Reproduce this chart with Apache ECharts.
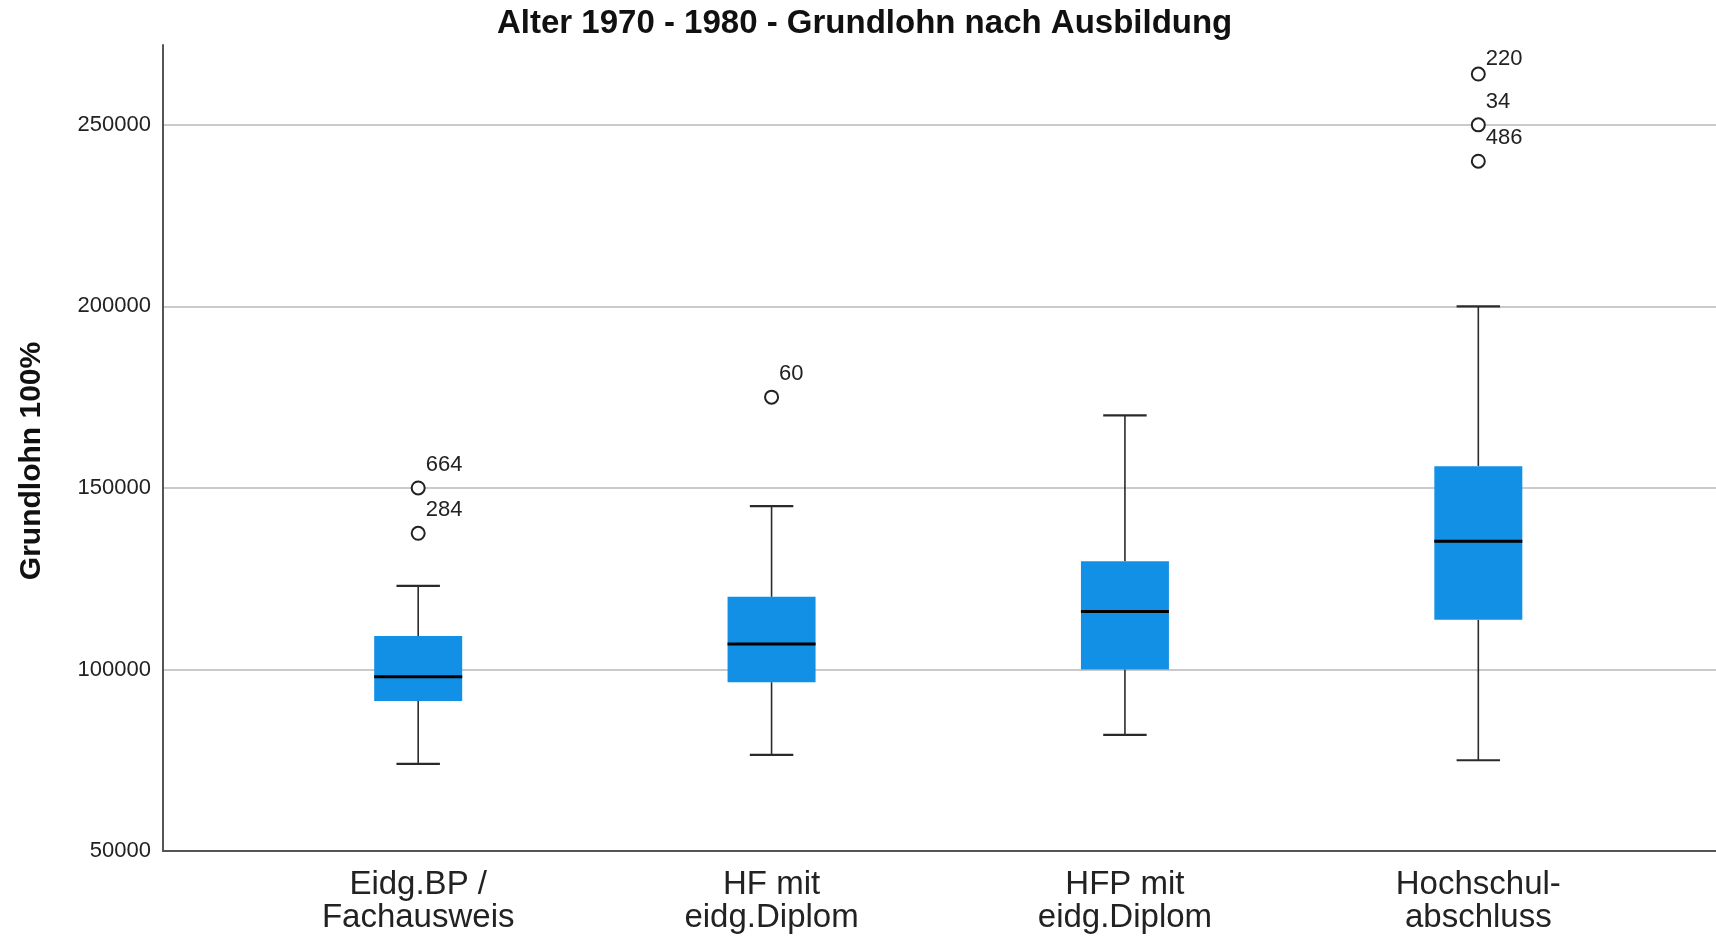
<!DOCTYPE html>
<html lang="de">
<head>
    <meta charset="UTF-8">
    <title>Alter 1970 - 1980 - Grundlohn nach Ausbildung</title>
    <style>
        html, body { margin: 0; padding: 0; background: #fff; }
        #chart { width: 1716px; height: 937px; }
    </style>
</head>
<body>
<div id="chart"></div>

<script src="https://cdn.jsdelivr.net/npm/echarts@6/dist/echarts.min.js"></script>
<script>
    // Kategorien (Ausbildung)
    const categories = ['Eidg.BP /\nFachausweis', 'HF mit\neidg.Diplom', 'HFP mit\neidg.Diplom', 'Hochschul-\nabschluss'];

    // Boxplot-Kennwerte je Kategorie
    const whiskerLow  = [74000, 76500, 82000, 75000];
    const quartile1   = [91300, 96500, 100000, 113700];
    const medianValue = [98000, 107000, 116000, 135300];
    const quartile3   = [109200, 120000, 129800, 156000];
    const whiskerHigh = [123000, 145000, 170000, 200000];

    // Ausreisser
    const outlierCategory = [0, 0, 1, 3, 3, 3];
    const outlierValue    = [150000, 137500, 175000, 264000, 250000, 240000];
    const outlierId       = ['664', '284', '60', '220', '34', '486'];

    // Achse
    const yTicks = [50000, 100000, 150000, 200000, 250000];

    const FONT = 'Liberation Sans, Arial, sans-serif';
    const BOX_BLUE = '#1290e6';
    const LINE_DARK = '#2a2a2a';

    const boxData = categories.map((c, i) =>
        [i, whiskerLow[i], quartile1[i], medianValue[i], quartile3[i], whiskerHigh[i]]);

    // label of the top outlier sits a bit lower in the original
    const labelLift = { '220': -15 };

    const outlierData = outlierValue.map((v, i) => ({
        value: [outlierCategory[i], v],
        name: outlierId[i],
        label: { offset: [0, labelLift[outlierId[i]] !== undefined ? labelLift[outlierId[i]] : -23] }
    }));

    function renderBox(params, api) {
        const i = api.value(0);
        const lo = api.coord([i, api.value(1)]);
        const b1 = api.coord([i, api.value(2)]);
        const md = api.coord([i, api.value(3)]);
        const b3 = api.coord([i, api.value(4)]);
        const hi = api.coord([i, api.value(5)]);
        const band = api.size([1, 0])[0];
        const boxW = band * 0.249;
        const capW = band * 0.123;
        const x = md[0];
        const lineStyle = { stroke: LINE_DARK, lineWidth: 1.6 };
        const capStyle = { stroke: LINE_DARK, lineWidth: 2.2 };
        return {
            type: 'group',
            children: [
                { type: 'line', shape: { x1: x, y1: hi[1], x2: x, y2: b3[1] }, style: lineStyle },
                { type: 'line', shape: { x1: x, y1: b1[1], x2: x, y2: lo[1] }, style: lineStyle },
                { type: 'line', shape: { x1: x - capW / 2, y1: hi[1], x2: x + capW / 2, y2: hi[1] }, style: capStyle },
                { type: 'line', shape: { x1: x - capW / 2, y1: lo[1], x2: x + capW / 2, y2: lo[1] }, style: capStyle },
                { type: 'rect', shape: { x: x - boxW / 2, y: b3[1], width: boxW, height: b1[1] - b3[1] },
                  style: { fill: BOX_BLUE } },
                { type: 'line', shape: { x1: x - boxW / 2, y1: md[1], x2: x + boxW / 2, y2: md[1] },
                  style: { stroke: '#000', lineWidth: 3 } }
            ]
        };
    }

    const chart = echarts.init(document.getElementById('chart'));

    const yMin = yTicks[0];
    const yMax = 272000;

    chart.setOption({
        animation: false,
        backgroundColor: '#fff',
        title: {
            text: 'Alter 1970 - 1980 - Grundlohn nach Ausbildung',
            left: 497,
            top: 7,
            padding: 0,
            textStyle: { fontFamily: FONT, fontSize: 33, fontWeight: 'bold', color: '#111' }
        },
        grid: [
            // frame: axis lines, tick labels, grid lines
            { left: 163, right: 0, top: 45, bottom: 86 },
            // category area for boxes
            { left: 241.5, right: 61, top: 45, bottom: 86 }
        ],
        xAxis: [
            {
                gridIndex: 0,
                type: 'value',
                min: 0, max: 1,
                axisLine: { show: true, lineStyle: { color: '#555', width: 2 } },
                axisTick: { show: false },
                axisLabel: { show: false },
                splitLine: { show: false }
            },
            {
                gridIndex: 1,
                type: 'category',
                data: categories,
                axisLine: { show: false },
                axisTick: { show: false },
                splitLine: { show: false },
                axisLabel: {
                    margin: 17,
                    fontFamily: FONT,
                    fontSize: 33,
                    lineHeight: 33,
                    color: '#222'
                }
            }
        ],
        yAxis: [
            {
                gridIndex: 0,
                type: 'value',
                min: yMin,
                max: yMax,
                interval: 50000,
                name: 'Grundlohn 100%',
                nameLocation: 'middle',
                nameGap: 116,
                nameTextStyle: {
                    fontFamily: FONT, fontSize: 30, fontWeight: 'bold', color: '#111',
                    padding: [0, 26, 0, 0]
                },
                axisLine: { show: true, lineStyle: { color: '#555', width: 2 } },
                axisTick: { show: false },
                axisLabel: {
                    margin: 12,
                    showMaxLabel: false,
                    formatter: v => String(v),
                    fontFamily: FONT,
                    fontSize: 22,
                    color: '#222',
                    padding: [8, 0, 0, 0]
                },
                splitLine: {
                    show: true,
                    showMinLine: false,
                    showMaxLine: false,
                    lineStyle: { color: '#cacaca', width: 2 }
                }
            },
            {
                gridIndex: 1,
                type: 'value',
                min: yMin,
                max: yMax,
                show: false,
                splitLine: { show: false }
            }
        ],
        series: [
            {
                type: 'custom',
                xAxisIndex: 1,
                yAxisIndex: 1,
                renderItem: renderBox,
                encode: { x: 0, y: [1, 2, 3, 4, 5] },
                data: boxData,
                z: 3
            },
            {
                type: 'scatter',
                xAxisIndex: 1,
                yAxisIndex: 1,
                data: outlierData,
                symbol: 'circle',
                symbolSize: 13,
                itemStyle: { color: '#fff', borderColor: '#222', borderWidth: 2, opacity: 1 },
                label: {
                    show: true,
                    position: 'right',
                    distance: 0,
                    formatter: p => p.name,
                    fontFamily: FONT,
                    fontSize: 22,
                    color: '#222'
                },
                z: 4
            }
        ]
    });
</script>
</body>
</html>
